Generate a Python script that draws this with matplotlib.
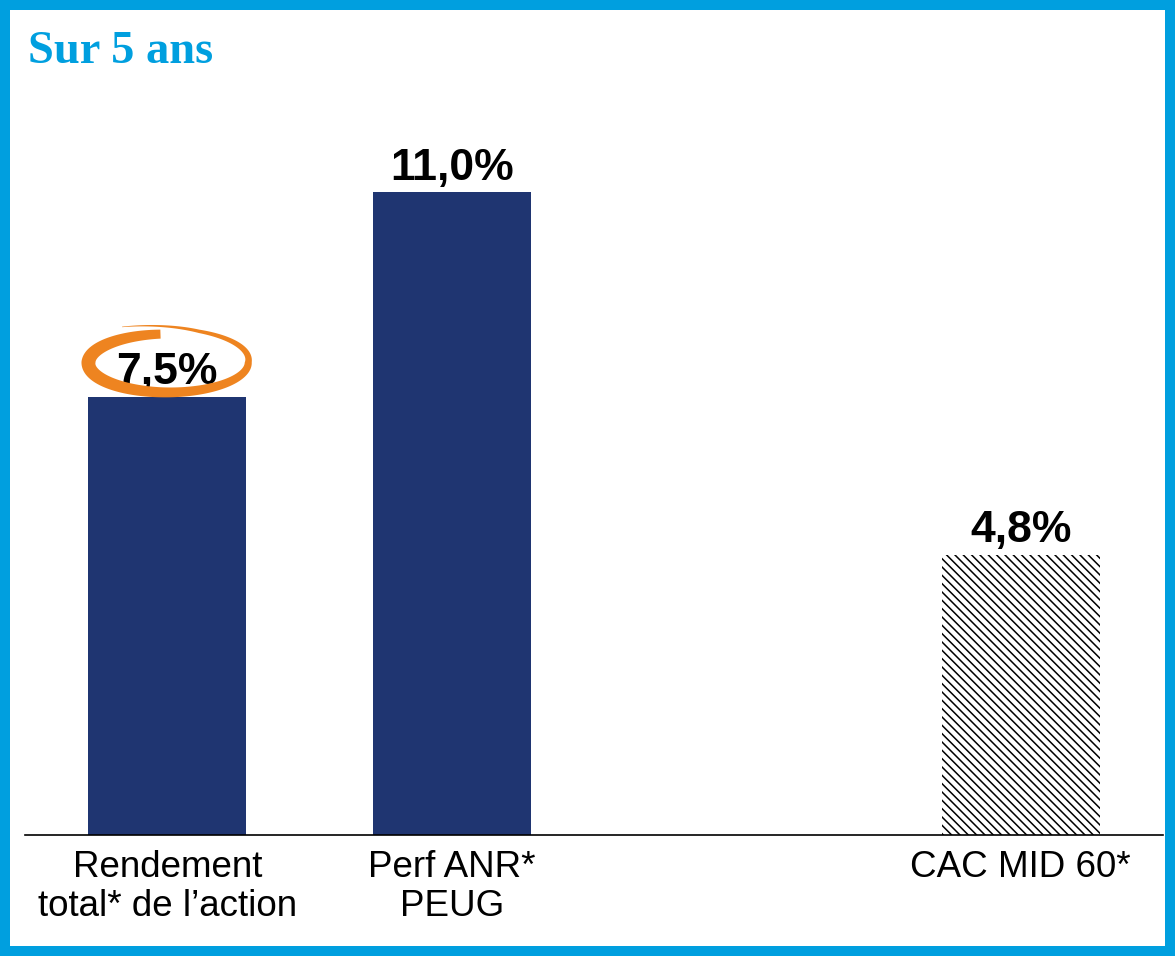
import numpy as np
import matplotlib
matplotlib.use("Agg")
import matplotlib.pyplot as plt
from matplotlib.patches import Rectangle, Polygon
from matplotlib.transforms import ScaledTranslation, IdentityTransform

# data
categories = ["Rendement\ntotal* de l\u2019action", "Perf ANR*\nPEUG", "", "CAC MID 60*"]
values = [7.5, 11.0, None, 4.8]
value_labels = ["7,5%", "11,0%", "", "4,8%"]
title = "Sur 5 ans"

blue_border = "#009FDF"
bar_blue = "#1F3571"
orange = "#EE8420"

plt.rcParams["font.family"] = ["Liberation Sans", "DejaVu Sans"]
plt.rcParams["hatch.linewidth"] = 1.1

fig = plt.figure(figsize=(11.75, 9.56), dpi=100)
ax = fig.add_axes([25 / 1175, 121 / 956, 1138 / 1175, 735 / 956])

x = np.arange(len(categories))
for i, v in enumerate(values):
    if v is None:
        continue
    if categories[i].startswith("CAC"):
        ax.bar(x[i], v, width=0.555, color="white", edgecolor="black",
               linewidth=0, hatch="\\\\\\\\")
    else:
        ax.bar(x[i], v, width=0.555, color=bar_blue, linewidth=0)
    ax.annotate(value_labels[i], (x[i], v), xytext=(0, 9), textcoords="offset points",
                ha="center", va="baseline", fontsize=32, fontweight="bold")

ax.set_xlim(-0.5, 3.5)
ax.set_ylim(0, 12.58)
ax.set_yticks([])
ax.set_xticks(x)
ax.set_xticklabels(categories, fontsize=26.5, linespacing=1.18)
ax.tick_params(axis="x", length=0, pad=10.5)
for s in ["top", "left", "right"]:
    ax.spines[s].set_visible(False)
ax.spines["bottom"].set_linewidth(1.2)

# hand-drawn orange ring around the first value
th = np.radians(np.linspace(115, -265, 500))
u = np.linspace(0, 1, th.size)
sc = np.interp(u, [0, 0.12, 0.3, 1], [1.32, 1.12, 1.0, 0.96])
w = np.interp(u, [0, 0.1, 0.3, 0.55, 0.78, 1], [0.5, 3, 7, 10, 14, 9])
a, b = 81, 30
cx, cy = a * sc * np.cos(th), b * sc * np.sin(th)
nx, ny = b * np.cos(th), a * np.sin(th)
nn = np.hypot(nx, ny)
nx, ny = nx / nn, ny / nn
outer = np.column_stack([cx + nx * w / 2, cy + ny * w / 2 + 34])
inner = np.column_stack([cx - nx * w / 2, cy - ny * w / 2 + 34])
ring_tr = IdentityTransform() + ScaledTranslation(x[0], values[0], ax.transData)
ring = Polygon(np.vstack([outer, inner[::-1]]), closed=True, facecolor=orange,
               edgecolor="none", transform=ring_tr, zorder=3)
ax.add_patch(ring)

# title and frame
fig.text(28 / 1175, 1 - 63 / 956, title, fontsize=33.5, fontweight="bold",
         color=blue_border, family=["Liberation Serif", "DejaVu Serif"], va="baseline")
fig.patches.append(Rectangle((0, 0), 1, 1, transform=fig.transFigure, fill=False,
                             edgecolor=blue_border, linewidth=14.4))

fig.savefig("out.png", dpi=100)
